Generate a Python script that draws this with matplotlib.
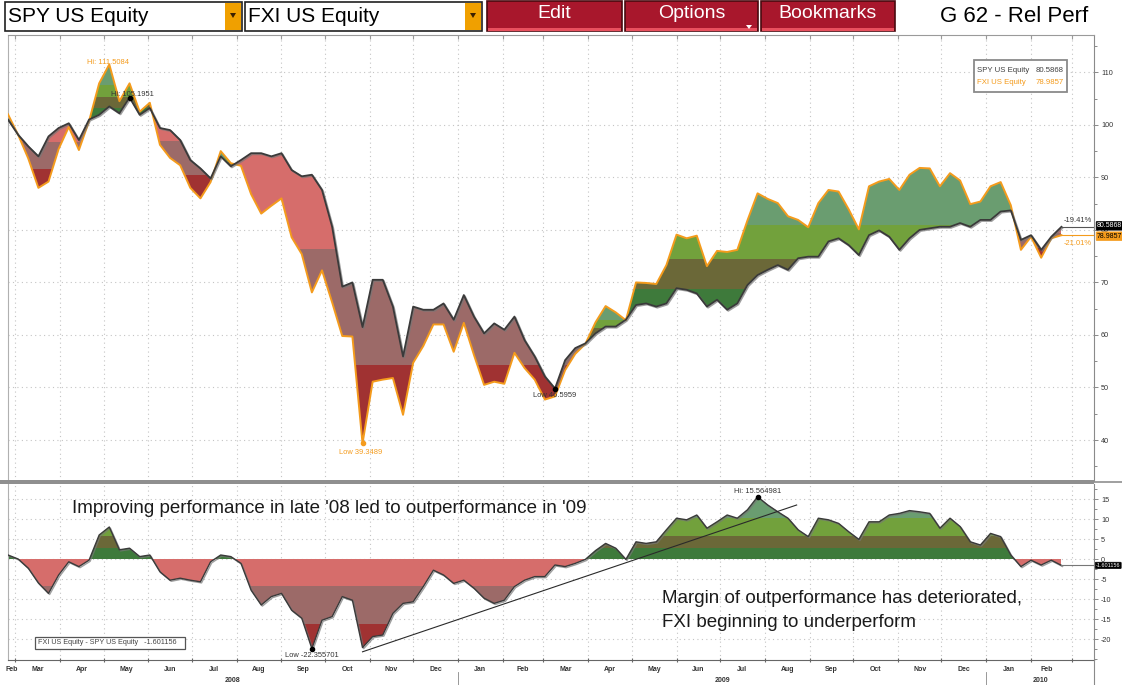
import numpy as np
import pandas as pd
import matplotlib
matplotlib.use('Agg')
import matplotlib.pyplot as plt
import matplotlib.dates as mdates
import matplotlib.patheffects as pe
from matplotlib.patches import Rectangle, Polygon
from matplotlib import font_manager

# weekly closes, both rebased to 100 on the first bar
dates = pd.date_range('2008-02-25', periods=105, freq='7D')
spy_vals = [101.0, 98.1, 95.9, 94.0, 97.8, 99.4, 100.3, 97.1, 101.0, 101.9,
            103.5, 102.2, 105.2, 101.9, 103.2, 99.4, 99.0, 97.1, 93.3, 91.7,
            89.8, 94.0, 92.1, 93.3, 94.6, 94.6, 94.0, 94.6, 91.4, 90.2,
            90.5, 87.6, 80.6, 69.2, 70.0, 61.5, 70.5, 70.5, 65.4, 55.9,
            65.4, 64.8, 64.8, 66.0, 62.9, 67.6, 63.5, 60.3, 62.2, 61.0,
            63.5, 59.0, 55.9, 52.1, 49.8, 55.2, 57.5, 58.4, 60.3, 61.6,
            61.6, 62.9, 65.7, 66.0, 65.4, 66.0, 68.9, 68.6, 67.9, 65.4,
            66.7, 64.8, 66.0, 69.5, 71.4, 72.4, 73.3, 72.4, 74.6, 74.9,
            74.9, 77.8, 78.4, 77.1, 75.2, 79.0, 79.9, 78.7, 76.2, 78.4,
            80.0, 80.3, 80.6, 80.6, 81.3, 80.6, 81.9, 81.9, 83.5, 83.7,
            78.1, 79.0, 76.2, 78.7, 80.59]
fxi_vals = [102.0, 98.1, 93.6, 88.0, 89.2, 95.4, 99.6, 95.2, 100.7, 107.9,
            111.5, 104.5, 107.9, 102.5, 104.2, 96.2, 93.7, 92.3, 88.0, 86.0,
            89.1, 95.0, 92.7, 92.2, 86.8, 83.1, 84.6, 86.0, 78.6, 75.4,
            68.1, 72.3, 66.2, 59.8, 59.7, 39.35, 51.1, 51.5, 51.8, 44.8,
            54.7, 57.9, 62.0, 62.0, 56.8, 62.3, 56.2, 50.5, 51.1, 50.7,
            56.6, 53.7, 51.5, 47.7, 48.3, 53.3, 56.4, 58.3, 62.4, 65.5,
            64.3, 62.8, 70.0, 69.9, 69.7, 73.3, 79.1, 78.4, 78.9, 73.1,
            76.0, 75.8, 76.2, 81.8, 86.96, 85.9, 85.1, 82.6, 81.9, 80.5,
            85.1, 87.6, 87.3, 83.9, 80.1, 88.3, 89.2, 89.7, 87.6, 90.5,
            91.8, 91.7, 88.3, 90.8, 89.4, 84.9, 85.4, 88.3, 89.1, 84.7,
            76.2, 78.7, 74.7, 78.4, 78.99]

spy_last = '80.5868'
fxi_last = '78.9857'
spread_last = '-1.601156'
spy_chg = '-19.41%'
fxi_chg = '-21.01%'
spy_hi_txt = 'Hi: 105.1951'
fxi_hi_txt = 'Hi: 111.5084'
spy_lo_txt = 'Low 46.5959'
fxi_lo_txt = 'Low 39.3489'
spread_hi_txt = 'Hi: 15.564981'
spread_lo_txt = 'Low -22.355701'
trend_dates = ['2008-10-27', '2009-08-23']
trend_vals = [-23.2, 13.5]
note_top = "Improving performance in late '08 led to outperformance in '09"
note_bottom = ["Margin of outperformance has deteriorated,", "FXI beginning to underperform"]

plt.rcParams['font.family'] = ['Liberation Sans', 'DejaVu Sans']
plt.rcParams['axes.unicode_minus'] = False

# the screenshot uses a condensed face for the big texts; use one if it is there
installed = {f.name for f in font_manager.fontManager.ttflist}
if 'Liberation Sans Narrow' in installed:
    big = dict(family=['Liberation Sans Narrow', 'DejaVu Sans'])
    big_k = 1.2
else:
    big = dict(family=['Liberation Sans', 'DejaVu Sans'])
    big_k = 1.0

W, H = 1122, 685
fig = plt.figure(figsize=(W / 100, H / 100), dpi=100)
fig.patch.set_facecolor('white')


def fx(px):
    return px / W


def fy(py):
    return 1 - py / H


def fig_rect(x0, y0, x1, y1, **kw):
    r = Rectangle((fx(x0), fy(y1)), (x1 - x0) / W, (y1 - y0) / H,
                  transform=fig.transFigure, **kw)
    fig.add_artist(r)
    return r


def fig_line(xs, ys, **kw):
    fig.add_artist(plt.Line2D([fx(v) for v in xs], [fy(v) for v in ys],
                              transform=fig.transFigure, **kw))


# ---------------- toolbar ----------------
for x0, x1, label in [(5, 242, 'SPY US Equity'), (245, 482, 'FXI US Equity')]:
    fig_rect(x0, 2, x1, 31, facecolor='white', edgecolor='#202020', lw=1.2)
    fig_rect(x1 - 17, 3, x1 - 1, 30, facecolor='#f0a000', edgecolor='none')
    fig.add_artist(Polygon([(fx(x1 - 12), fy(13)), (fx(x1 - 6), fy(13)), (fx(x1 - 9), fy(18))],
                           closed=True, transform=fig.transFigure, facecolor='#3a2000', edgecolor='none'))
    fig.text(fx(x0 + 3), fy(17), label, fontsize=15 * big_k, va='center', ha='left', color='black', **big)

for x0, x1, label in [(487, 622, 'Edit'), (625, 758, 'Options'), (761, 895, 'Bookmarks')]:
    fig_rect(x0, 1, x1, 31, facecolor='#a8172c', edgecolor='#4a0a10', lw=1.2)
    fig_rect(x0 + 1, 28, x1 - 1, 31, facecolor='#e8505e', edgecolor='none')
    fig.text(fx((x0 + x1) / 2), fy(14), label, fontsize=14 * big_k, color='white',
             ha='center', va='center', **big)
fig.add_artist(Polygon([(fx(746), fy(25)), (fx(752), fy(25)), (fx(749), fy(29))],
                       closed=True, transform=fig.transFigure, facecolor='white', edgecolor='none'))
fig.text(fx(1014), fy(17), 'G 62 - Rel Perf', fontsize=16 * big_k, ha='center', va='center',
         color='black', **big)

# ---------------- axes ----------------
ax1 = fig.add_axes([fx(8), fy(481), (1094 - 8) / W, (481 - 35) / H])
ax2 = fig.add_axes([fx(8), fy(660), (1094 - 8) / W, (660 - 484) / H])

x = mdates.date2num(dates)
spy = np.asarray(spy_vals)
fxi = np.asarray(fxi_vals)
spread = fxi - spy
xlim = (x[0], x[0] + 750.5)

green_cols = ['#3e7a3b', '#6b6838', '#72a13c', '#6a9d70']
red_cols = ['#a03232', '#9c6a68', '#d66d6b']


def shade(ax, coll, edges_for, colors):
    paths = coll.get_paths()
    coll.remove()
    for p in paths:
        if len(p.vertices) < 3:
            continue
        v = p.vertices
        lo, hi = v[:, 1].min(), v[:, 1].max()
        x0, x1 = v[:, 0].min(), v[:, 0].max()
        edges = edges_for(lo, hi)
        for b0, b1, c in zip(edges[:-1], edges[1:], colors):
            r = Rectangle((x0, b0), x1 - x0, b1 - b0, facecolor=c, edgecolor='none', zorder=2)
            ax.add_patch(r)
            r.set_clip_path(p, ax.transData)


# top panel: bands are spread over each run's own price range
pos = ax1.fill_between(x, spy, fxi, where=fxi >= spy, interpolate=True)
shade(ax1, pos, lambda lo, hi: lo + (hi - lo) * np.array([0, .2, .4, .62, 1.0]), green_cols)
neg = ax1.fill_between(x, spy, fxi, where=fxi < spy, interpolate=True)
shade(ax1, neg, lambda lo, hi: lo + (hi - lo) * np.array([0, .27, .67, 1.0]), red_cols)

shadow = [pe.SimpleLineShadow(offset=(0.8, -0.8), shadow_color='#777777', alpha=0.7), pe.Normal()]
ax1.plot(x, fxi, color='#f49b1c', lw=1.4, zorder=4)
ax1.plot(x, spy, color='#3a3a3a', lw=1.3, zorder=5, path_effects=shadow)

# bottom panel: one set of levels for the whole spread
smax, smin = spread.max(), spread.min()
pos = ax2.fill_between(x, spread, 0, where=spread >= 0, interpolate=True)
shade(ax2, pos, lambda lo, hi: np.array([0, .17 * smax, .37 * smax, .66 * smax, 30]), green_cols)
neg = ax2.fill_between(x, spread, 0, where=spread < 0, interpolate=True)
shade(ax2, neg, lambda lo, hi: np.array([-40, .72 * smin, .30 * smin, 0]), red_cols)
ax2.plot(x, spread, color='#3a3a3a', lw=1.0, zorder=5, path_effects=shadow)
ax2.plot(mdates.date2num(pd.to_datetime(trend_dates)), trend_vals, color='#2a2a2a', lw=0.8, zorder=6)

# hi / low markers
small = dict(fontsize=5.4, textcoords='offset pixels', ha='center', va='center', zorder=8)
i = spy.argmax()
ax1.plot(x[i], spy[i], 'o', ms=3, color='black', zorder=7)
ax1.annotate(spy_hi_txt, (x[i], spy[i]), xytext=(3, 3), color='#333333', **small)
i = fxi.argmax()
ax1.annotate(fxi_hi_txt, (x[i], fxi[i]), xytext=(-1, 2), color='#f49b1c', **small)
i = spy.argmin()
ax1.plot(x[i], spy[i], 'o', ms=3, color='black', zorder=7)
ax1.annotate(spy_lo_txt, (x[i], spy[i]), xytext=(0, -7), color='#333333', **small)
i = fxi.argmin()
ax1.plot(x[i], fxi[i], 'o', ms=3, color='#f49b1c', zorder=7)
ax1.annotate(fxi_lo_txt, (x[i], fxi[i]), xytext=(-2, -9), color='#f49b1c', **small)
i = spread.argmax()
ax2.plot(x[i], spread[i], 'o', ms=3, color='black', zorder=7)
ax2.annotate(spread_hi_txt, (x[i], spread[i]), xytext=(0, 5), color='#333333', **small)
i = spread.argmin()
ax2.plot(x[i], spread[i], 'o', ms=3, color='black', zorder=7)
ax2.annotate(spread_lo_txt, (x[i], spread[i]), xytext=(0, -7), color='#333333', **small)

# ---------------- axes styling ----------------
months = pd.date_range('2008-02-01', '2010-03-01', freq='MS')
mnum = mdates.date2num(months)
grid_kw = dict(color='#c4c4c4', linestyle=(0, (1, 3)), lw=0.8)
for ax in (ax1, ax2):
    ax.set_xlim(xlim)
    ax.set_facecolor('white')
    ax.set_xticks([m for m in mnum if xlim[0] < m < xlim[1]])
    ax.grid(True, which='major', **grid_kw)
    ax.set_axisbelow(True)
    ax.yaxis.tick_right()
    ax.tick_params(axis='y', which='both', labelsize=5.2, labelcolor='#333333', colors='#777777',
                   width=0.6, pad=2)
    ax.tick_params(axis='y', which='major', length=3)
    ax.tick_params(axis='y', which='minor', length=2)
    ax.spines['right'].set_color('#8a8a8a')
    ax.spines['left'].set_color('#b0b0b0')

ax1.set_ylim(32.2, 117.1)
ax1.set_yticks(np.arange(40, 111, 10))
ax1.set_yticks(np.arange(35, 116, 5), minor=True)
ax1.tick_params(axis='x', which='both', bottom=False, top=True, labelbottom=False,
                direction='in', length=3, colors='#999999')
ax1.spines['bottom'].set_visible(False)
ax1.spines['top'].set_color('#9a9a9a')

ax2.set_ylim(-25.25, 18.75)
ax2.set_yticks(np.arange(-20, 16, 5))
ax2.set_yticks(np.arange(-25, 18, 2.5), minor=True)
ax2.spines['top'].set_visible(False)
ax2.spines['bottom'].set_color('#666666')

# month labels in the middle of the visible part of each month
data_end = x[-1]
label_pos, label_txt = [], []
for m, nxt in zip(months[:-1], months[1:]):
    a = max(mdates.date2num(m), xlim[0])
    b = min(mdates.date2num(nxt), data_end)
    if b > a:
        label_pos.append((a + b) / 2)
        label_txt.append(m.strftime('%b'))
ax2.set_xticks(label_pos, minor=True)
ax2.set_xticklabels(label_txt, minor=True)
ax2.tick_params(axis='x', which='minor', length=0, labelsize=5, pad=4)
ax2.tick_params(axis='x', which='major', length=3, direction='inout', labelbottom=False, colors='#666666')
for lab in ax2.get_xticklabels(minor=True):
    lab.set_fontweight('bold')
    lab.set_color('#333333')

xt = ax2.get_xaxis_transform()
years = mdates.date2num(pd.to_datetime(['2009-01-01', '2010-01-01']))
bounds = [xlim[0], years[0], years[1], xlim[1]]
for yr, a, b in zip(['2008', '2009', '2010'], bounds[:-1], bounds[1:]):
    ax2.text((a + b) / 2, -0.115, yr, transform=xt, fontsize=5, fontweight='bold',
             color='#333333', ha='center', va='center')
for yv in years:
    ax2.plot([yv, yv], [-0.07, -0.145], transform=xt, color='#888888', lw=0.6, clip_on=False)

# panel separator and right axis extension
fig_rect(0, 480, 1094, 484, facecolor='#8f8f8f', edgecolor='none', zorder=5)
fig_line([1094, 1122], [482, 482], color='#8f8f8f', lw=1.2, zorder=5)
fig_line([1094, 1094], [660, 685], color='#8a8a8a', lw=0.8)

# last-value markers
yt1 = ax1.get_yaxis_transform()
yt2 = ax2.get_yaxis_transform()
for val, col in [(spy[-1], '#555555'), (fxi[-1], '#f49b1c')]:
    ax1.plot([x[-1], xlim[1]], [val, val], color=col, lw=0.8, zorder=6)
ax1.annotate(spy_chg, (1.0, spy[-1]), xycoords=yt1, xytext=(-2, 6), textcoords='offset pixels',
             ha='right', va='center', fontsize=5.4, color='#333333', annotation_clip=False)
ax1.annotate(fxi_chg, (1.0, fxi[-1]), xycoords=yt1, xytext=(-2, -8), textcoords='offset pixels',
             ha='right', va='center', fontsize=5.4, color='#f49b1c', annotation_clip=False)
box = dict(boxstyle='round,pad=0.12', lw=0.5)
ax1.annotate(spy_last, (1.0, spy[-1]), xycoords=yt1, xytext=(3, 1), textcoords='offset pixels',
             ha='left', va='center', fontsize=5.0, color='white', zorder=10, annotation_clip=False,
             bbox=dict(fc='black', ec='black', **box))
ax1.annotate(fxi_last, (1.0, fxi[-1]), xycoords=yt1, xytext=(3, -1), textcoords='offset pixels',
             ha='left', va='center', fontsize=5.0, color='black', zorder=10, annotation_clip=False,
             bbox=dict(fc='#f49b1c', ec='#f49b1c', **box))
ax2.plot([x[-1], xlim[1]], [spread[-1], spread[-1]], color='#777777', lw=0.8, zorder=6)
ax2.annotate(spread_last, (1.0, spread[-1]), xycoords=yt2, xytext=(2, 0), textcoords='offset pixels',
             ha='left', va='center', fontsize=4.0, color='white', zorder=10, annotation_clip=False,
             bbox=dict(fc='black', ec='black', **box))

# legends
fig_rect(974, 60, 1067, 92, facecolor='white', edgecolor='#8a8a8a', lw=1.3, zorder=9)
fig.text(fx(977), fy(70), 'SPY US Equity', fontsize=5.6, color='#404040', va='center', zorder=10)
fig.text(fx(1064), fy(70), spy_last, fontsize=5.6, color='#404040', va='center', ha='right', zorder=10)
fig.text(fx(977), fy(83), 'FXI US Equity', fontsize=5.6, color='#f49b1c', va='center', zorder=10)
fig.text(fx(1064), fy(83), fxi_last, fontsize=5.6, color='#f49b1c', va='center', ha='right', zorder=10)

fig_rect(35, 637, 185, 649, facecolor='white', edgecolor='#555555', lw=0.9, zorder=9)
fig.text(fx(38), fy(643), 'FXI US Equity - SPY US Equity   ' + spread_last, fontsize=5.2,
         color='#444444', va='center', zorder=10)

# commentary
fig.text(fx(72), fy(513), note_top, fontsize=13.5 * big_k, color='#1a1a1a', va='baseline',
         zorder=10, **big)
fig.text(fx(662), fy(603), note_bottom[0], fontsize=13.5 * big_k, color='#1a1a1a', va='baseline',
         zorder=10, **big)
fig.text(fx(662), fy(627), note_bottom[1], fontsize=13.5 * big_k, color='#1a1a1a', va='baseline',
         zorder=10, **big)

fig.savefig('out.png', dpi=100, facecolor='white')
